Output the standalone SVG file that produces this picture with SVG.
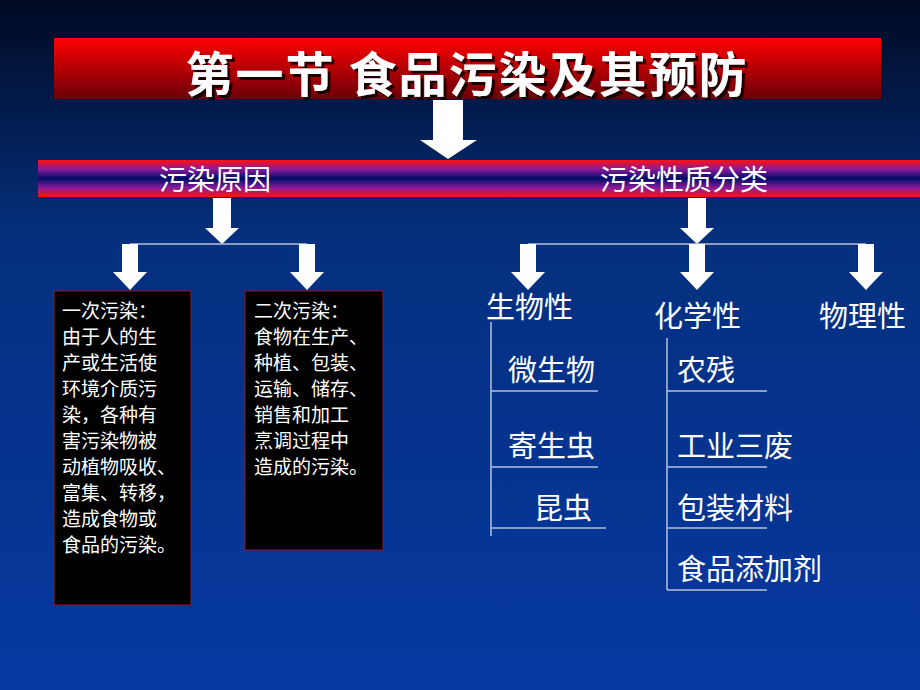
<svg xmlns="http://www.w3.org/2000/svg" width="920" height="690" viewBox="0 0 920 690">
<defs>
<linearGradient id="bg" x1="0" y1="0" x2="0" y2="1"><stop offset="0" stop-color="#000a22"/><stop offset="0.35" stop-color="#05307f"/><stop offset="1" stop-color="#0638a0"/></linearGradient>
<linearGradient id="tb" x1="0" y1="0" x2="0" y2="1"><stop offset="0" stop-color="#ff0000"/><stop offset="1" stop-color="#6a0008"/></linearGradient>
<linearGradient id="band" x1="0" y1="0" x2="0" y2="1"><stop offset="0" stop-color="#ff1010"/><stop offset="0.25" stop-color="#8a1a9a"/><stop offset="0.5" stop-color="#000c6a"/><stop offset="0.75" stop-color="#8a1a9a"/><stop offset="1" stop-color="#ff1010"/></linearGradient>
<filter id="sh"><feDropShadow dx="3" dy="3" stdDeviation="0.5" flood-color="#000" flood-opacity="0.8"/></filter>
</defs>
<style>
.cj{font-family:"Noto Sans CJK SC",sans-serif;fill:#fff}
.bx{font-family:"Noto Sans CJK SC",sans-serif;fill:#fff;font-size:19px}
.it{font-family:"Noto Sans CJK SC",sans-serif;fill:#fff;font-size:29px}
.ln{stroke:#b8c0d8;stroke-width:1.5;fill:none}
.ar{fill:#fff}
</style>
<rect width="920" height="690" fill="url(#bg)"/>
<g id="title"><rect x="54" y="38" width="827" height="61" fill="url(#tb)"/>
<text class="cj" x="467" y="92" text-anchor="middle" font-size="48" font-weight="bold" letter-spacing="2" filter="url(#sh)">第一节  食品污染及其预防</text></g>
<g id="band"><rect x="38" y="160" width="882" height="37" fill="url(#band)"/>
<text class="cj" x="215" y="190" text-anchor="middle" font-size="28">污染原因</text>
<text class="cj" x="684" y="190" text-anchor="middle" font-size="28">污染性质分类</text></g>
<g id="connectors">
<polygon class="ar" points="433,100 463,100 463,140 477,140 448,159 420,140 433,140"/>
<polygon class="ar" points="213,198 231,198 231,228 239,228 222,244 205,228 213,228"/>
<polygon class="ar" points="688,198 706,198 706,228 714,228 697,244 680,228 688,228"/>
<path class="ln" d="M130,244H307M528,244H866"/>
<polygon class="ar" points="122,244 138,244 138,272 147,272 130,290 113,272 122,272"/>
<polygon class="ar" points="299,244 315,244 315,272 324,272 307,290 290,272 299,272"/>
<polygon class="ar" points="520,244 536,244 536,272 545,272 528,290 511,272 520,272"/>
<polygon class="ar" points="689,244 705,244 705,272 714,272 697,290 680,272 689,272"/>
<polygon class="ar" points="858,244 874,244 874,272 883,272 866,290 849,272 858,272"/>
<path class="ln" d="M491,322V536M491,391H598M491,467H598M491,528H606M667,338V590M667,391H767M667,467H767M667,528H767M667,590H767"/>
</g>
<g id="box1"><rect x="54" y="291" width="137" height="314" fill="#000" stroke="#a01020"/>
<text class="bx"><tspan x="62" y="318">一次污染：</tspan><tspan x="62" y="344">由于人的生</tspan><tspan x="62" y="370">产或生活使</tspan><tspan x="62" y="396">环境介质污</tspan><tspan x="62" y="422">染，各种有</tspan><tspan x="62" y="448">害污染物被</tspan><tspan x="62" y="474">动植物吸收、</tspan><tspan x="62" y="500">富集、转移，</tspan><tspan x="62" y="526">造成食物或</tspan><tspan x="62" y="552">食品的污染。</tspan></text></g>
<g id="box2"><rect x="245" y="291" width="138" height="259" fill="#000" stroke="#a01020"/>
<text class="bx"><tspan x="254" y="318">二次污染：</tspan><tspan x="254" y="344">食物在生产、</tspan><tspan x="254" y="370">种植、包装、</tspan><tspan x="254" y="396">运输、储存、</tspan><tspan x="254" y="422">销售和加工</tspan><tspan x="254" y="448">烹调过程中</tspan><tspan x="254" y="474">造成的污染。</tspan></text></g>
<g id="bio"><text class="it" x="486" y="318">生物性</text>
<text class="it" x="508" y="381">微生物</text><text class="it" x="508" y="457">寄生虫</text><text class="it" x="534" y="519">昆虫</text></g>
<g id="chem"><text class="it" x="654" y="327">化学性</text>
<text class="it" x="677" y="381">农残</text><text class="it" x="677" y="457">工业三废</text><text class="it" x="677" y="519">包装材料</text><text class="it" x="677" y="580">食品添加剂</text></g>
<g id="phys"><text class="it" x="819" y="327">物理性</text></g>
</svg>
